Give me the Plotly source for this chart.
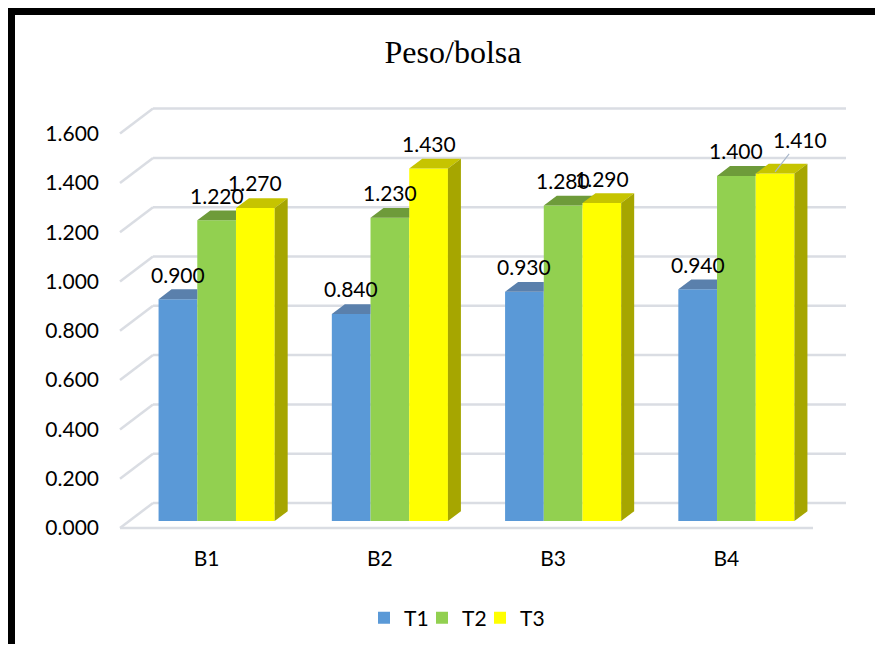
import plotly.graph_objects as go

# ---------------- data ----------------
categories = ["B1", "B2", "B3", "B4"]
series_names = ["T1", "T2", "T3"]
t1_values = [0.900, 0.840, 0.930, 0.940]
t2_values = [1.220, 1.230, 1.280, 1.400]
t3_values = [1.270, 1.430, 1.290, 1.410]
y_ticks = [0.0, 0.2, 0.4, 0.6, 0.8, 1.0, 1.2, 1.4, 1.6]
title_text = "Peso/bolsa"

# ---------------- style ----------------
front_colors = ["#5A99D7", "#92D050", "#FFFF00"]
top_colors = ["#5A80AC", "#6E9B3A", "#C6C400"]
side_colors = ["#4A6F98", "#5F8A30", "#A6A600"]
legend_widths = [13, 13, 26]
grid_color = "#DADDE3"
font_family = "Lato, 'Open Sans', sans-serif"

# page has an 8px body margin: figure coords = page coords - 8
S = 8
W, H = 883 - 2 * S, 652 - 2 * S
ml, mr, mt, mb = 105 - S, 15, 60 - S, 104
FLOOR_X0 = 120 - S    # pixel of front floor left edge
BASE_Y = 521 - S      # pixel of bar base (front)
PX_PER_X = 173.25     # pixels per category unit
PX_PER_Y = 246.5      # pixels per value unit

# fake-3D geometry (in axis units)
bar_w = 38.7 / PX_PER_X
bar_off_x = 10 / PX_PER_X
ddx = 13 / PX_PER_X
ddy = 9.8 / PX_PER_Y
wall_dx = 33 / PX_PER_X
floor_front_y = -7 / PX_PER_Y
wall_back_y = 18 / PX_PER_Y
n_cat = len(categories)

plot_w = W - ml - mr
plot_h = H - mt - mb
x_range = [(ml - FLOOR_X0) / PX_PER_X, (ml - FLOOR_X0 + plot_w) / PX_PER_X]
y_top = (BASE_Y - mt) / PX_PER_Y
y_range = [y_top - plot_h / PX_PER_Y, y_top]

all_values = [t1_values, t2_values, t3_values]

fig = go.Figure()

# front faces (real bars)
centers = []
for j, (name, vals) in enumerate(zip(series_names, all_values)):
    xs = [i + 0.5 + bar_off_x + (j - 1) * bar_w for i in range(n_cat)]
    centers.append(xs)
    fig.add_trace(go.Bar(
        x=xs, y=vals, width=bar_w, name=name,
        marker=dict(color=front_colors[j], line=dict(width=0)),
        showlegend=True, legendwidth=legend_widths[j],
    ))

# top faces and side faces of the bars
for j in range(len(series_names)):
    for i in range(n_cat):
        v = all_values[j][i]
        xl = centers[j][i] - bar_w / 2
        xr = centers[j][i] + bar_w / 2
        if j + 1 < len(series_names):
            vn = all_values[j + 1][i]
        else:
            vn = -1.0
        vn = min(max(vn, v), v + ddy)
        t = (vn - v) / ddy
        px = [xl, xr, xr, xr + ddx * t, xr + ddx, xl + ddx, xl]
        py = [v, v, vn, vn, v + ddy, v + ddy, v]
        fig.add_trace(go.Scatter(
            x=px, y=py, mode="lines", fill="toself",
            fillcolor=top_colors[j], line=dict(width=0, color=top_colors[j]),
            hoverinfo="skip", showlegend=False,
        ))
        if j == len(series_names) - 1:
            sx = [xr, xr + ddx, xr + ddx, xr, xr]
            sy = [0, ddy, v + ddy, v, 0]
            fig.add_trace(go.Scatter(
                x=sx, y=sy, mode="lines", fill="toself",
                fillcolor=side_colors[j], line=dict(width=0, color=side_colors[j]),
                hoverinfo="skip", showlegend=False,
            ))

# gridlines on back wall + side wall diagonals + front floor edge
shapes = []
for v in y_ticks:
    shapes.append(dict(type="line", xref="x", yref="y", layer="below",
                       x0=wall_dx, x1=n_cat + wall_dx, y0=v + wall_back_y, y1=v + wall_back_y,
                       line=dict(color=grid_color, width=2.5)))
    shapes.append(dict(type="line", xref="x", yref="y", layer="below",
                       x0=0, x1=wall_dx, y0=v + floor_front_y, y1=v + wall_back_y,
                       line=dict(color=grid_color, width=2.5)))
shapes.append(dict(type="line", xref="x", yref="y", layer="below",
                   x0=0, x1=n_cat, y0=floor_front_y, y1=floor_front_y,
                   line=dict(color=grid_color, width=2.5)))

# black frame: only top and left edges are inside the picture
fx0 = (3.5 - ml) / plot_w
fx1 = (W + 20 - ml) / plot_w
fy_top = ((H - mb) - 0.0) / plot_h
fy_top_c = ((H - mb) - 3.5) / plot_h
fy_bot = ((H - mb) - (H + 20)) / plot_h
shapes.append(dict(type="line", xref="paper", yref="paper", layer="above",
                   x0=(0 - ml) / plot_w, x1=fx1, y0=fy_top_c, y1=fy_top_c,
                   line=dict(color="black", width=7)))
shapes.append(dict(type="line", xref="paper", yref="paper", layer="above",
                   x0=fx0, x1=fx0, y0=fy_top, y1=fy_bot,
                   line=dict(color="black", width=7)))

# data labels
annotations = []
for j in range(len(series_names)):
    for i in range(n_cat):
        v = all_values[j][i]
        label = f"{v:.3f}"
        if j == 2 and i == 3:
            annotations.append(dict(
                x=centers[j][i], y=v + ddy * 0.15, xref="x", yref="y",
                text=label, showarrow=True, arrowhead=0, arrowwidth=1.2,
                arrowcolor="#A9B7CA", ax=25, ay=-32, standoff=0,
                font=dict(family=font_family, size=21, color="black")))
        else:
            annotations.append(dict(
                x=centers[j][i], y=v, xref="x", yref="y", text=label,
                showarrow=False, yshift=25, yanchor="middle", xanchor="center",
                font=dict(family=font_family, size=21, color="black")))

fig.update_layout(
    width=W, height=H,
    margin=dict(l=ml, r=mr, t=mt, b=mb, autoexpand=False),
    paper_bgcolor="white", plot_bgcolor="white",
    barmode="overlay",
    title=dict(text=title_text, xref="container", x=(453 - S) / W, xanchor="center",
               yref="container", y=1 - (52 - S) / H, yanchor="middle",
               font=dict(family="Liberation Serif, 'Times New Roman', serif", size=32, color="black")),
    xaxis=dict(range=x_range, showgrid=False, zeroline=False, showline=False,
               tickmode="array", tickvals=[i + 0.5 for i in range(n_cat)], ticktext=categories,
               ticks="", ticklabelstandoff=4,
               tickfont=dict(family=font_family, size=21, color="black"),
               fixedrange=True),
    yaxis=dict(range=y_range, showgrid=False, zeroline=False, showline=False,
               tickmode="array", tickvals=[v + floor_front_y for v in y_ticks],
               ticktext=[f"{v:.3f}" for v in y_ticks],
               ticks="", ticklabelstandoff=5,
               tickfont=dict(family=font_family, size=21, color="black"),
               fixedrange=True),
    legend=dict(orientation="h", x=(364 - S - ml) / plot_w, xanchor="left",
                y=((H - mb) - (618 - S)) / plot_h, yanchor="middle",
                font=dict(family=font_family, size=21, color="black"),
                traceorder="normal"),
    shapes=shapes,
    annotations=annotations,
    showlegend=True,
)

fig.write_html("out.html")
